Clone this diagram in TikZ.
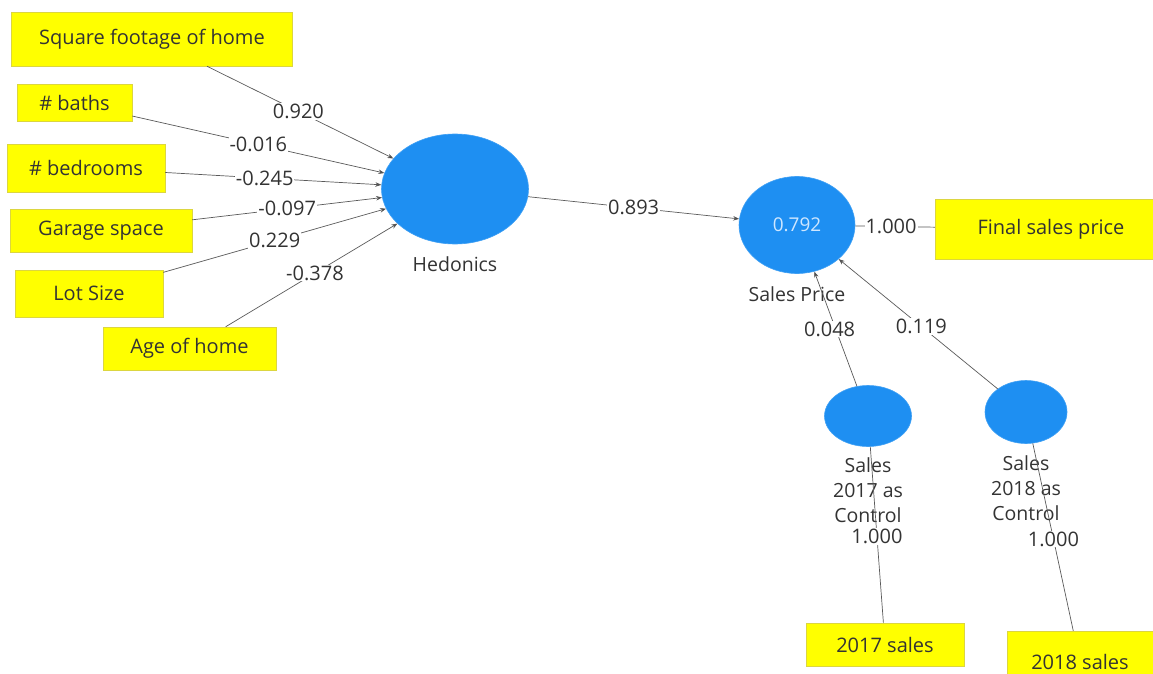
\documentclass[tikz,border=0pt]{standalone}
\usepackage{fontspec}
\setmainfont{Open Sans}
\usetikzlibrary{arrows.meta,shapes.geometric}
\definecolor{boxyellow}{HTML}{FFFF00}
\definecolor{boxedge}{HTML}{DCD640}
\definecolor{latblue}{HTML}{1E8FF2}
\definecolor{txt}{HTML}{333333}
\definecolor{inblue}{HTML}{CFE7FF}
\begin{document}
\begin{tikzpicture}[x=1pt,y=-1pt,
  ind/.style={rectangle, fill=boxyellow, draw=boxedge, line width=0.5pt, inner sep=0pt, text=txt, font=\fontsize{20}{24}\selectfont},
  lat/.style={ellipse, fill=latblue, draw=latblue!85!white, line width=0.6pt, inner sep=0pt},
  lbl/.style={text=txt, align=center, inner sep=0pt, font=\fontsize{19.5}{25}\selectfont},
  pathc/.style={draw=black!65, line width=0.7pt, -{Stealth[length=6pt,width=4.5pt,fill=black]}},
  loadc/.style={draw=black!65, line width=0.7pt},
  coef/.style={fill=white, inner sep=1pt, text=txt, font=\fontsize{20}{24}\selectfont}
]
\useasboundingbox (0,0) rectangle (1153,674);
% indicators
\node[ind, minimum width=281pt, minimum height=54pt] (sq) at (152,39) {Square footage of home};
\node[ind, minimum width=115pt, minimum height=37pt] (ba) at (74.5,103) {\# baths};
\node[ind, minimum width=158pt, minimum height=48pt] (be) at (86,168) {\# bedrooms};
\node[ind, minimum width=182pt, minimum height=43pt] (ga) at (101,230.5) {Garage space};
\node[ind, minimum width=148pt, minimum height=47pt] (lo) at (89,293.5) {Lot Size};
\node[ind, minimum width=173pt, minimum height=43pt] (ag) at (189.5,348.5) {Age of home};
\node[ind, minimum width=232pt, minimum height=60pt] (fs) at (1051,229) {Final sales price};
\node[ind, minimum width=158pt, minimum height=43pt] (s17) at (885,644.5) {2017 sales};
\node[ind, minimum width=146pt, minimum height=62pt] (s18) at (1080,662) {2018 sales};
% latent variables
\node[lat, minimum width=147pt, minimum height=110pt] (hed) at (455,189) {};
\node[lat, minimum width=116pt, minimum height=97pt, text=inblue, font=\fontsize{19}{22}\selectfont] (sp) at (797,225) {0.792};
\node[lat, minimum width=87pt, minimum height=61pt] (c17) at (868,416) {};
\node[lat, minimum width=82pt, minimum height=63pt] (c18) at (1026,412) {};
% labels
\node[lbl] (lhed) at (455,264) {Hedonics};
\node[lbl] (lsp) at (797,294) {Sales Price};
\node[lbl] (l17) at (868,490) {Sales\\2017 as\\Control};
\node[lbl] (l18) at (1026,488) {Sales\\2018 as\\Control};
% paths
\draw[pathc] (sq) -- node[coef, pos=0.49] {0.920} (hed);
\draw[pathc] (ba) -- node[coef, pos=0.50] {-0.016} (hed);
\draw[pathc] (be) -- node[coef, pos=0.46] {-0.245} (hed);
\draw[pathc] (ga) -- node[coef, pos=0.50] {-0.097} (hed);
\draw[pathc] (lo) -- node[coef, pos=0.50] {0.229} (hed);
\draw[pathc] (ag) -- node[coef, pos=0.52] {-0.378} (hed);
\draw[pathc] (hed) -- node[coef, pos=0.50] {0.893} (sp);
\draw[pathc] (c17) -- node[coef, pos=0.50, xshift=-6pt] {0.048} (sp);
\draw[pathc] (c18) -- node[coef, pos=0.48] {0.119} (sp);
\draw[loadc] (sp) -- node[coef, pos=0.45] {1.000} (fs);
\draw[loadc] (c17) -- node[coef, pos=0.51] {1.000} (s17);
\draw[loadc] (c18) -- node[coef, pos=0.51] {1.000} (s18);
\end{tikzpicture}
\end{document}
